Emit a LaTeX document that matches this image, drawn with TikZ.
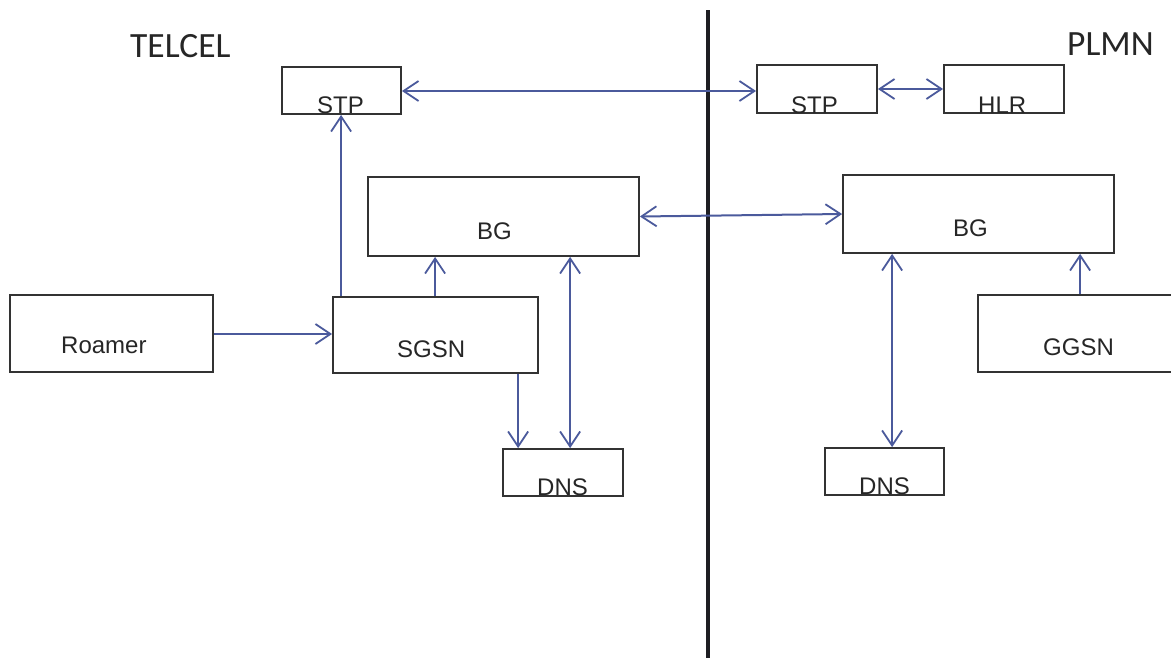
\documentclass[tikz,border=0pt]{standalone}
\usepackage{fontspec}
\newfontfamily\labelfont{Liberation Sans}
\newfontfamily\titlefont{Carlito}
\usetikzlibrary{arrows.meta}
\definecolor{boxc}{HTML}{333333}
\definecolor{connc}{HTML}{4B5A9C}
\definecolor{txtc}{HTML}{262626}
\definecolor{divc}{HTML}{1E1E22}
\newcommand{\boxnode}[5]{%
  \node[netbox, minimum width={(#4-#2)*1pt}, minimum height={(#5-#3)*1pt}] (#1) at ({(#2+#4)/2},{(#3+#5)/2}) {};}
\tikzset{
  netbox/.style={draw=boxc, line width=1.8pt, inner sep=0pt, fill=white},
  lbl/.style={font=\labelfont\fontsize{24}{24}\selectfont, text=txtc, inner sep=0pt, anchor=base west},
  ttl/.style={font=\titlefont\fontsize{35.5}{35.5}\selectfont, text=txtc, inner sep=0pt, anchor=base west},
  conn/.style={draw=connc, line width=2pt, >={Straight Barb[length=15pt,width=20pt,line width=1.8pt]}},
  divider/.style={draw=divc, line width=4.5pt}
}
\begin{document}
\begin{tikzpicture}[x=1pt,y=-1pt]
\useasboundingbox (0,0) rectangle (1171,657);
\clip (0,0) rectangle (1171,657);
\fill[white] (0,0) rectangle (1171,657);
% divider
\coordinate (divtop) at (708,10);
\coordinate (divbot) at (708,665);
\draw[divider] (divtop) -- (divbot);
% titles
\node[ttl] (telcel) at (130,57) {TELCEL};
\node[ttl] (plmn) at (1067,55) {PLMN};
% boxes
\boxnode{stpL}{282}{67}{401}{114}
\boxnode{stpR}{757}{65}{877}{113}
\boxnode{hlr}{944}{65}{1064}{113}
\boxnode{bgL}{368}{177}{639}{256}
\boxnode{bgR}{843}{175}{1114}{253}
\boxnode{roamer}{10}{295}{213}{372}
\boxnode{sgsn}{333}{297}{538}{373}
\boxnode{dnsL}{503}{449}{623}{496}
\boxnode{dnsR}{825}{448}{944}{495}
\boxnode{ggsn}{978}{295}{1195}{372}
% labels
\node[lbl] (tstpL) at (317,113) {STP};
\node[lbl] (tstpR) at (791,113) {STP};
\node[lbl] (thlr) at (978,113) {HLR};
\node[lbl] (tbgL) at (477,239) {BG};
\node[lbl] (tbgR) at (953,236) {BG};
\node[lbl] (troamer) at (61,353) {Roamer};
\node[lbl] (tsgsn) at (397,357) {SGSN};
\node[lbl] (tdnsL) at (537,495) {DNS};
\node[lbl] (tdnsR) at (859,494) {DNS};
\node[lbl] (tggsn) at (1043,355) {GGSN};
% connectors
\draw[conn,<->] ([yshift=-0.5pt]stpL.east) -- ([yshift=-0.5pt]stpL.east -| stpR.west);
\draw[conn,<->] (stpR.east) -- (stpR.east -| hlr.west);
\draw[conn,->] ([xshift=9pt]sgsn.north west) -- ([xshift=9pt]sgsn.north west |- stpL.south);
\draw[conn,->] ([xshift=103pt]sgsn.north west) -- ([xshift=103pt]sgsn.north west |- bgL.south);
\draw[conn,<->] ([xshift=68pt]dnsL.north west) -- ([xshift=68pt]dnsL.north west |- bgL.south);
\draw[conn,->] ([xshift=16pt]dnsL.north west |- sgsn.south) -- ([xshift=16pt]dnsL.north west);
\draw[conn,->] ([yshift=-0.5pt]roamer.east) -- ([yshift=-0.5pt]roamer.east -| sgsn.west);
\draw[conn,<->] (bgL.east) -- (bgR.west);
\draw[conn,<->] ([xshift=68pt]dnsR.north west) -- ([xshift=68pt]dnsR.north west |- bgR.south);
\draw[conn,->] ([xshift=103pt]ggsn.north west) -- ([xshift=103pt]ggsn.north west |- bgR.south);
\end{tikzpicture}
\end{document}
